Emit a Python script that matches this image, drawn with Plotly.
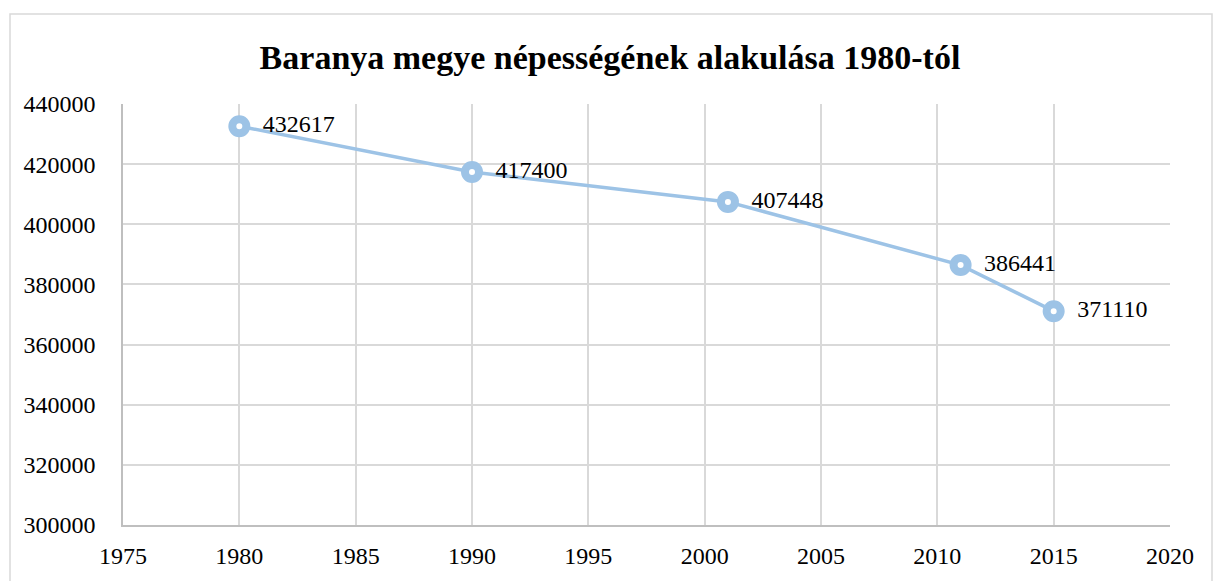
import plotly.graph_objects as go

years = [1980, 1990, 2001, 2011, 2015]
population = [432617, 417400, 407448, 386441, 371110]
labels = [str(v) for v in population]
title = "Baranya megye népességének alakulása 1980-tól"

color = "#9DC3E6"
font = "Liberation Serif, Times New Roman, serif"

fig = go.Figure()
fig.add_trace(go.Scatter(
    x=years, y=population,
    mode="lines+markers",
    line=dict(color=color, width=3.5),
    marker=dict(symbol="circle", size=14, color="white", line=dict(color=color, width=8)),
    cliponaxis=False, showlegend=False, hoverinfo="skip",
))
fig.add_trace(go.Scatter(
    x=years, y=population, text=labels,
    mode="markers+text", textposition="middle right",
    marker=dict(size=36, color="rgba(0,0,0,0)"),
    textfont=dict(family=font, size=24, color="black"),
    cliponaxis=False, showlegend=False,
))

fig.update_layout(
    width=1220, height=581,
    margin=dict(l=123, r=50, t=104, b=51),
    paper_bgcolor="white", plot_bgcolor="white",
    title=dict(text="<b>" + title + "</b>", x=0.5, xanchor="center", y=1 - 57 / 581, yanchor="middle",
               font=dict(family=font, size=34, color="black")),
    font=dict(family=font, size=24, color="black"),
    xaxis=dict(range=[1975, 2020], dtick=5, tick0=1975, showgrid=True, gridcolor="#D9D9D9", gridwidth=1.5,
               showline=True, linecolor="#BFBFBF", linewidth=1.5, zeroline=False, ticks="",
               ticklabelstandoff=8),
    yaxis=dict(range=[300000, 440000], dtick=20000, showgrid=True, gridcolor="#D9D9D9", gridwidth=1.5,
               showline=True, linecolor="#BFBFBF", linewidth=1.5, zeroline=False, ticks="",
               tickformat="d", ticklabelstandoff=21),
    shapes=[dict(type="rect", xref="paper", yref="paper", x0=(10 - 123) / 1047, x1=(1212 - 123) / 1047,
                 y0=-0.3, y1=(530 - 13) / 426, line=dict(color="#D9D9D9", width=1.5), layer="below")],
)

fig.write_html("out.html", config={"displayModeBar": False},
               post_script="document.body.style.margin='0';document.body.style.padding='0';")
